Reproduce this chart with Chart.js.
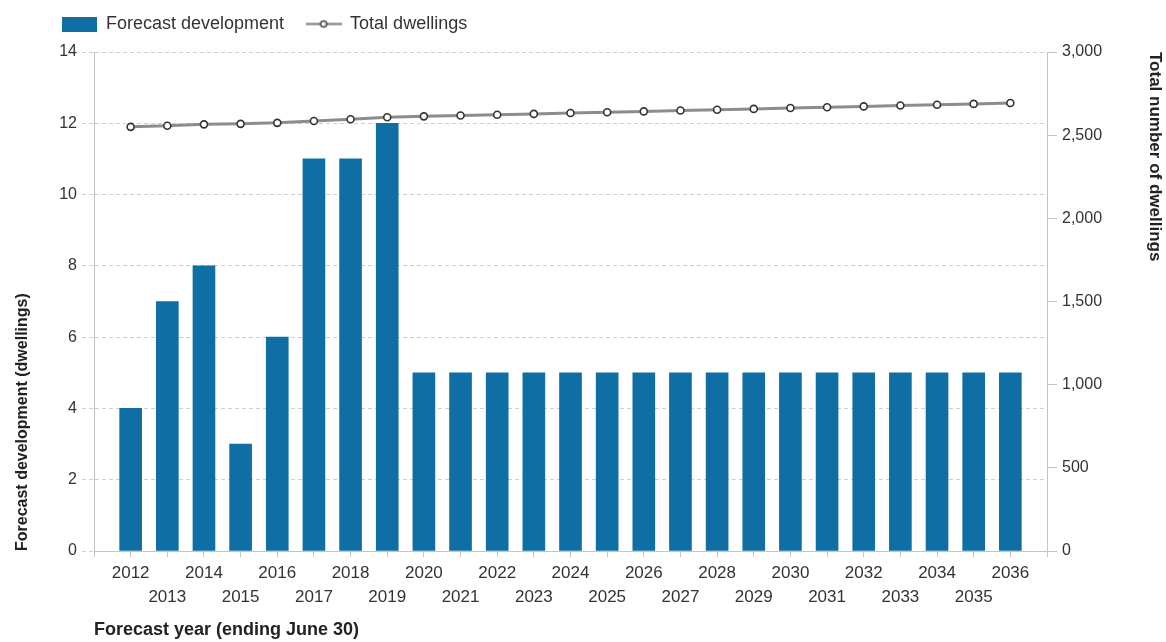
<!DOCTYPE html>
<html>
<head>
<meta charset="utf-8">
<script src="https://cdn.jsdelivr.net/npm/chart.js@4"></script>
<style>
  html, body { margin: 0; padding: 0; background: #ffffff; }
  #wrap { width: 1166px; height: 642px; position: relative; }
</style>
</head>
<body>
<div id="wrap"><canvas id="c" width="1166" height="642"></canvas></div>
<script>
// ---- data ----
const years = [2012, 2013, 2014, 2015, 2016, 2017, 2018, 2019, 2020, 2021, 2022, 2023, 2024,
               2025, 2026, 2027, 2028, 2029, 2030, 2031, 2032, 2033, 2034, 2035, 2036];
const forecastDevelopment = [4, 7, 8, 3, 6, 11, 11, 12, 5, 5, 5, 5, 5,
                             5, 5, 5, 5, 5, 5, 5, 5, 5, 5, 5, 5];
const totalDwellings = [2550, 2557, 2565, 2568, 2574, 2585, 2596, 2608, 2613, 2618, 2623, 2628, 2633,
                        2638, 2643, 2648, 2653, 2658, 2663, 2668, 2673, 2678, 2683, 2688, 2693];
const leftTicks = [0, 2, 4, 6, 8, 10, 12, 14];
const rightTicks = [0, 500, 1000, 1500, 2000, 2500, 3000];
const seriesNames = ['Forecast development', 'Total dwellings'];
const axisTitles = {
  x: 'Forecast year (ending June 30)',
  y: 'Forecast development (dwellings)',
  y1: 'Total number of dwellings'
};

// ---- styles ----
const BAR_COLOR = '#0f6fa5';
const LINE_COLOR = '#8c8c8c';
const TEXT = '#333333';
const GRID = '#cfcfcf';
const AXIS = '#c4c4c4';
const FONT = "'Liberation Sans', Arial, sans-serif";

// legend icons
function boxIcon() {
  const c = document.createElement('canvas');
  c.width = 35; c.height = 15;
  const g = c.getContext('2d');
  g.fillStyle = BAR_COLOR; g.fillRect(0, 0, 35, 15);
  return c;
}
function lineIcon() {
  const c = document.createElement('canvas');
  c.width = 36; c.height = 11;
  const g = c.getContext('2d');
  g.strokeStyle = '#777'; g.lineWidth = 2;
  g.beginPath(); g.moveTo(0, 5.5); g.lineTo(36, 5.5); g.stroke();
  g.fillStyle = '#fff'; g.strokeStyle = '#444'; g.lineWidth = 1.5;
  g.beginPath(); g.arc(18, 5.5, 3, 0, Math.PI * 2); g.fill(); g.stroke();
  return c;
}
const icons = [boxIcon(), lineIcon()];

const legendShift = {
  id: 'legendShift',
  afterLayout(chart) {
    chart.legend.left = 40;
    chart.legend.top = -7;
  }
};

new Chart(document.getElementById('c'), {
  type: 'bar',
  data: {
    datasets: [
      {
        type: 'bar',
        label: seriesNames[0],
        data: years.map((yr, i) => ({ x: yr, y: forecastDevelopment[i] })),
        backgroundColor: BAR_COLOR,
        borderWidth: 0,
        barThickness: 22,
        yAxisID: 'y',
        order: 1
      },
      {
        type: 'line',
        label: seriesNames[1],
        data: years.map((yr, i) => ({ x: yr, y: totalDwellings[i] })),
        borderColor: LINE_COLOR,
        borderWidth: 3,
        pointRadius: 3.5,
        pointBackgroundColor: '#ffffff',
        pointBorderColor: '#333333',
        pointBorderWidth: 1.6,
        tension: 0,
        yAxisID: 'y1',
        order: 0
      }
    ]
  },
  plugins: [legendShift],
  options: {
    responsive: false,
    animation: false,
    layout: { padding: { top: 2, left: 0, right: 0, bottom: 0 } },
    plugins: {
      tooltip: { enabled: false },
      legend: {
        position: 'top',
        align: 'start',
        labels: {
          usePointStyle: true,
          pointStyleWidth: 35,
          boxHeight: 15,
          padding: 22,
          color: TEXT,
          font: { family: FONT, size: 18 },
          generateLabels: () => seriesNames.map((name, i) => ({
            text: name,
            pointStyle: icons[i],
            fillStyle: BAR_COLOR,
            strokeStyle: 'transparent',
            lineWidth: 0,
            fontColor: TEXT,
            hidden: false,
            datasetIndex: i
          }))
        }
      }
    },
    scales: {
      x: {
        type: 'linear',
        min: 2011,
        max: 2037,
        offset: false,
        grid: {
          offset: false,
          drawOnChartArea: false,
          drawTicks: true,
          tickLength: 6,
          color: AXIS
        },
        border: { display: true, color: AXIS, width: 1 },
        ticks: {
          stepSize: 1,
          autoSkip: false,
          maxRotation: 0,
          minRotation: 0,
          padding: 4,
          color: TEXT,
          font: { family: FONT, size: 17, lineHeight: 1.42 },
          callback: (v) => {
            if (!years.includes(v)) return '';
            return (v % 2 === 0) ? [String(v), ''] : ['', String(v)];
          }
        },
        title: {
          display: true,
          text: axisTitles.x,
          align: 'start',
          color: '#222',
          font: { family: FONT, size: 18, weight: 'bold' },
          padding: { top: 0, bottom: 1 }
        },
        afterFit: (s) => { s.height = 91; }
      },
      y: {
        type: 'linear',
        position: 'left',
        min: leftTicks[0],
        max: leftTicks[leftTicks.length - 1],
        grid: {
          color: GRID,
          drawTicks: true,
          tickLength: 12,
          tickBorderDash: [4, 3],
          lineWidth: 1
        },
        border: { display: true, color: AXIS, width: 1, dash: [4, 3] },
        ticks: {
          stepSize: leftTicks[1] - leftTicks[0],
          padding: 5,
          color: TEXT,
          font: { family: FONT, size: 16 }
        },
        title: {
          display: true,
          text: axisTitles.y,
          align: 'start',
          color: '#222',
          font: { family: FONT, size: 16, weight: 'bold' },
          padding: { top: 13, bottom: 0 }
        },
        afterFit: (s) => { s.width = 94; }
      },
      y1: {
        type: 'linear',
        position: 'right',
        min: rightTicks[0],
        max: rightTicks[rightTicks.length - 1],
        grid: {
          drawOnChartArea: false,
          drawTicks: true,
          tickLength: 10,
          color: AXIS
        },
        border: { display: true, color: AXIS, width: 1 },
        ticks: {
          stepSize: rightTicks[1] - rightTicks[0],
          padding: 5,
          color: TEXT,
          font: { family: FONT, size: 16 },
          callback: (v) => v.toLocaleString('en-US')
        },
        title: {
          display: true,
          text: axisTitles.y1,
          align: 'end',
          color: '#222',
          font: { family: FONT, size: 17, weight: 'bold' },
          padding: { top: 1, bottom: 0 }
        },
        afterFit: (s) => { s.width = 119; }
      }
    }
  }
});
</script>
</body>
</html>
